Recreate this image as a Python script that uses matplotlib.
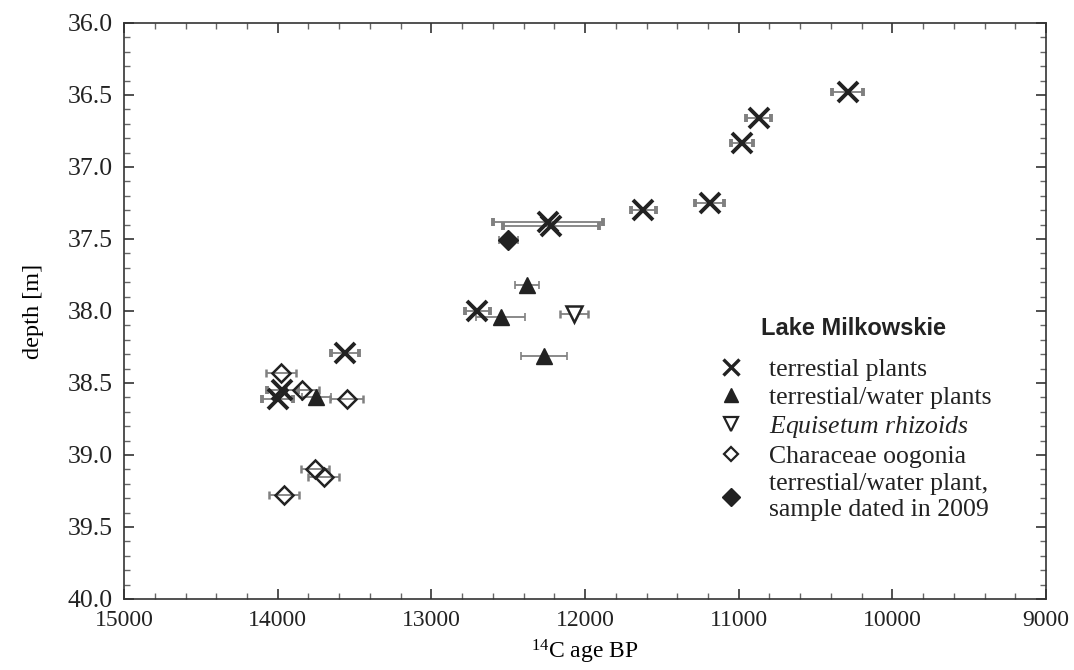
import matplotlib
matplotlib.use('Agg')
import matplotlib.pyplot as plt
from matplotlib.lines import Line2D
from matplotlib.ticker import MultipleLocator, FormatStrFormatter

# terrestial plants
terr_age = [10290, 10870, 10980, 11190, 11620, 12240, 12220, 12700, 13560, 13970, 14000]
terr_depth = [36.48, 36.66, 36.83, 37.25, 37.30, 37.38, 37.41, 38.00, 38.29, 38.55, 38.61]
terr_err = [100, 80, 72, 92, 82, 358, 312, 80, 91, 100, 100]

# terrestial/water plants
tw_age = [12380, 12550, 12270, 13750]
tw_depth = [37.82, 38.04, 38.31, 38.60]
tw_err = [79, 161, 150, 95]

# Equisetum rhizoids
eq_age = [12070]
eq_depth = [38.02]
eq_err = [90]

# Characeae oogonia
ch_age = [13980, 13840, 13550, 13760, 13700, 13960]
ch_depth = [38.43, 38.55, 38.61, 39.10, 39.155, 39.28]
ch_err = [98, 106, 107, 91, 100, 99]

# terrestial/water plant, dated 2009
tw09_age = [12500]
tw09_depth = [37.51]
tw09_err = [61]

serif = 'Liberation Serif'
plt.rcParams['mathtext.fontset'] = 'custom'
plt.rcParams['mathtext.rm'] = serif
plt.rcParams['mathtext.it'] = serif + ':italic'
plt.rcParams['text.color'] = '#222222'
mk = '#222222'
ec = '#808080'

fig = plt.figure(figsize=(10.74, 6.70), dpi=100)
ax = fig.add_axes([0.1155, 0.106, 0.8585, 0.8597])

ebkw = dict(ecolor=ec, elinewidth=1.3, capsize=3, capthick=1.2, linestyle='none')
ax.errorbar(terr_age, terr_depth, xerr=terr_err, marker='x', ms=14, mew=2.8,
            color=mk, **ebkw)
ax.errorbar(tw_age, tw_depth, xerr=tw_err, marker='^', ms=11, color=mk, **ebkw)
ax.errorbar(eq_age, eq_depth, xerr=eq_err, marker='v', ms=11, mfc='white',
            mec=mk, mew=1.8, color=mk, **ebkw)
ax.errorbar(ch_age, ch_depth, xerr=ch_err, marker='D', ms=9, mfc='none',
            mec=mk, mew=1.8, color=mk, **ebkw)
ax.errorbar(tw09_age, tw09_depth, xerr=tw09_err, marker='D', ms=10, color=mk, **ebkw)

ax.set_xlim(15000, 9000)
ax.set_ylim(40.0, 36.0)
ax.xaxis.set_major_locator(MultipleLocator(1000))
ax.xaxis.set_minor_locator(MultipleLocator(200))
ax.yaxis.set_major_locator(MultipleLocator(0.5))
ax.yaxis.set_minor_locator(MultipleLocator(0.1))
ax.yaxis.set_major_formatter(FormatStrFormatter('%.1f'))
ax.tick_params(which='both', direction='in', top=True, right=True, color='#333333',
               labelcolor='#222222')
ax.tick_params(which='major', length=7, width=1.2, pad=8)
ax.tick_params(which='minor', length=4.5, width=1.0, color='#666666')
ax.tick_params(axis='y', which='major', labelsize=18.5)
ax.tick_params(axis='x', which='major', labelsize=17)
for lab in ax.get_xticklabels() + ax.get_yticklabels():
    lab.set_fontfamily(serif)
for s in ax.spines.values():
    s.set_linewidth(1.2)
    s.set_color('#333333')

ax.set_ylabel('depth [m]', fontfamily=serif, fontsize=17.5, labelpad=17)
ax.set_xlabel('$^{14}$C age BP', fontfamily=serif, fontsize=17, labelpad=5)

handles = [
    Line2D([], [], marker='x', ms=11, mew=2.4, color=mk, ls='none'),
    Line2D([], [], marker='^', ms=10, color=mk, ls='none'),
    Line2D([], [], marker='v', ms=10, mfc='white', mec=mk, mew=1.6, ls='none'),
    Line2D([], [], marker='D', ms=7.5, mfc='white', mec=mk, mew=1.6, ls='none'),
    Line2D([], [], marker='D', ms=9, color=mk, ls='none'),
]
labels = ['terrestial plants', 'terrestial/water plants', r'$\mathit{Equisetum\ rhizoids}$',
          'Characeae oogonia', 'terrestial/water plant,\nsample dated in 2009']
leg = ax.legend(handles, labels, loc='upper left', bbox_to_anchor=(0.616, 0.53),
                frameon=False, prop={'family': serif, 'size': 18.5},
                title='Lake Milkowskie',
                title_fontproperties={'family': 'Liberation Sans', 'weight': 'bold', 'size': 17},
                handletextpad=0.9, labelspacing=0.2, handlelength=1.2)
leg._legend_box.align = 'center'
leg._legend_box.sep = 13

fig.savefig('out.png', dpi=100)
